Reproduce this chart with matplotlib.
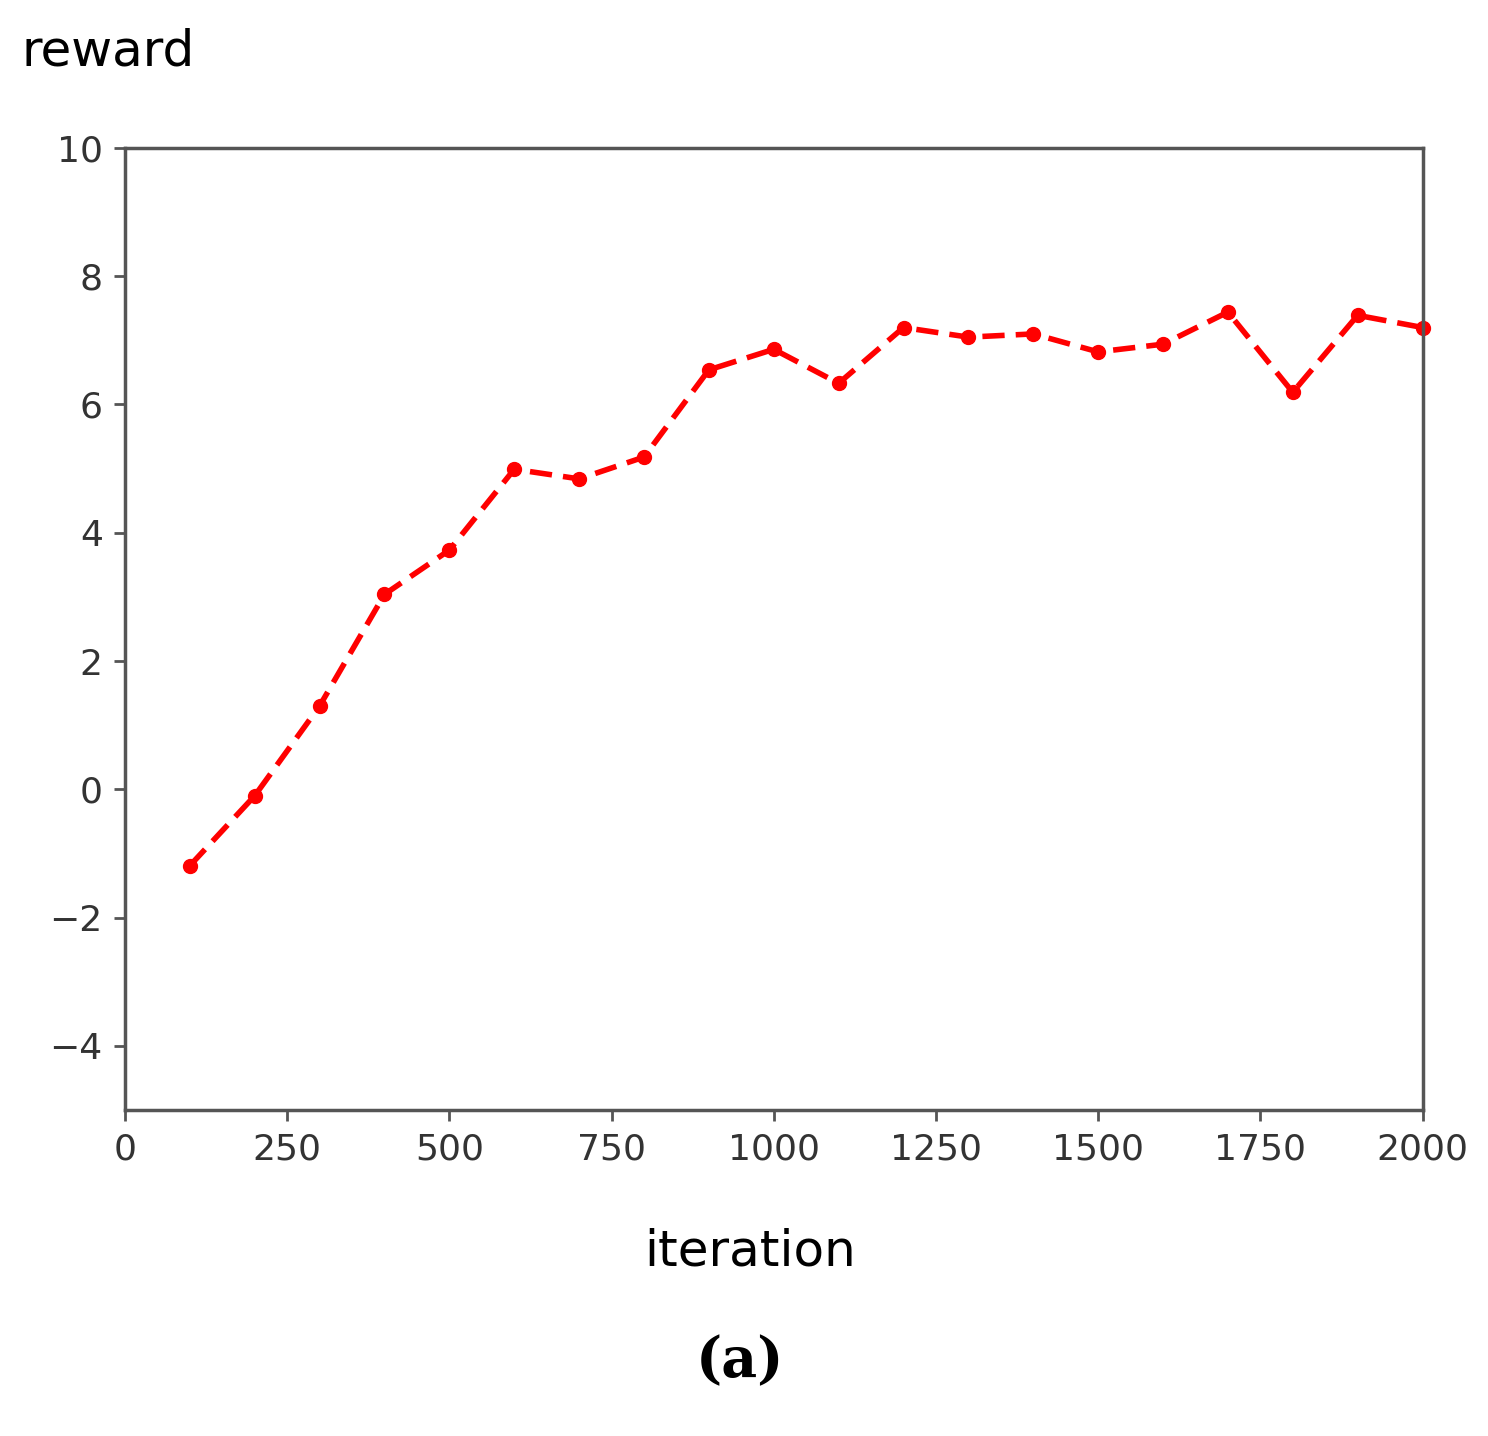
import matplotlib
matplotlib.use("Agg")
import matplotlib.pyplot as plt

iterations = [100, 200, 300, 400, 500, 600, 700, 800, 900, 1000,
              1100, 1200, 1300, 1400, 1500, 1600, 1700, 1800, 1900, 2000]
reward = [-1.19, -0.1, 1.3, 3.04, 3.73, 4.99, 4.84, 5.18, 6.54, 6.86,
          6.33, 7.2, 7.05, 7.1, 6.82, 6.94, 7.44, 6.19, 7.39, 7.2]
xticks = [0, 250, 500, 750, 1000, 1250, 1500, 1750, 2000]
yticks = [-4, -2, 0, 2, 4, 6, 8, 10]

fig = plt.figure(figsize=(14.88, 14.36), dpi=100)
ax = fig.add_axes([0.084, 0.227, 0.872, 0.670])
ax.plot(iterations, reward, color='red', linestyle='--', linewidth=4,
        marker='o', markersize=10, dashes=(4, 2), clip_on=False)
ax.set_xlim(0, 2000)
ax.set_ylim(-5, 10)
ax.set_xticks(xticks)
ax.set_yticks(yticks)
ax.tick_params(labelsize=26, labelcolor='#333333', length=8, width=2, color='#555555', pad=8)
for s in ax.spines.values():
    s.set_linewidth(2.5)
    s.set_color('#555555')
fig.text(22/1488, 1-52/1436, 'reward', fontsize=36, va='center', ha='left')
fig.text(750/1488, 1-1252/1436, 'iteration', fontsize=36, va='center', ha='center')
fig.text(740/1488, 1-1362/1436, '(a)', fontsize=40, fontweight='bold',
         family='DejaVu Serif', va='center', ha='center')
fig.savefig('out.png', dpi=100)
